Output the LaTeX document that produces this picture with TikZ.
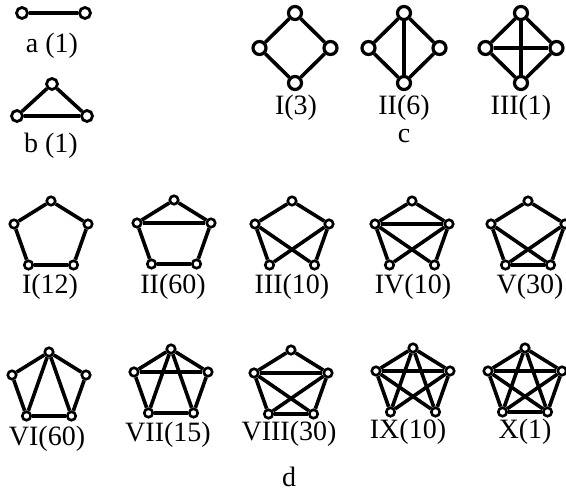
\documentclass[tikz,border=0pt]{standalone}
\usepackage{fontspec}
\setmainfont{Liberation Serif}
\newcommand\pentag[3]{%
  \begin{scope}[shift={(#2,#3)}]
    \node[v] (#1T) at (0,0) {};
    \node[v] (#1L) at (-37,23) {};
    \node[v] (#1R) at (37,23) {};
    \node[v] (#1BL) at (-22.5,64) {};
    \node[v] (#1BR) at (22.5,64) {};
  \end{scope}}
\newcommand\gedges[2]{\foreach \a/\b in {#2} \draw[e] (#1\a) -- (#1\b);}
\begin{document}
\begin{tikzpicture}[x=1pt,y=-1pt,
  v/.style={circle,draw,fill=white,line width=2.6pt,inner sep=0pt,minimum size=8.5pt},
  va/.style={v,line width=2.8pt,minimum size=11pt},
  vc/.style={v,line width=3.2pt,minimum size=13pt},
  e/.style={line width=3.6pt},
  lab/.style={font=\fontsize{28}{30}\selectfont,inner sep=0pt,anchor=base}]
\useasboundingbox (0,0) rectangle (566,494);
% a
\node[va] (a1) at (22,13) {};
\node[va] (a2) at (85,13) {};
\draw[e] (a1) -- (a2);
\node[lab] (la) at (52,53) {a (1)};
% b
\node[va] (b1) at (52,84) {};
\node[va] (b2) at (17,116) {};
\node[va] (b3) at (87,116) {};
\draw[e] (b1) -- (b2) (b2) -- (b3) (b3) -- (b1);
\node[lab] (lb) at (51,153) {b (1)};
% c
\foreach \n/\x in {cI/295,cII/404,cIII/521}{
  \node[vc] (\n T) at (\x,13) {};
  \node[vc] (\n L) at (\x-35.5,48) {};
  \node[vc] (\n R) at (\x+35.5,48) {};
  \node[vc] (\n B) at (\x,83) {};
}
\gedges{cI}{T/L,L/B,B/R,R/T}
\gedges{cII}{T/L,L/B,B/R,R/T,T/B}
\gedges{cIII}{T/L,L/B,B/R,R/T,T/B,L/R}
\node[lab] (lc1) at (296,115) {I(3)};
\node[lab] (lc2) at (404,115) {II(6)};
\node[lab] (lc3) at (521,115) {III(1)};
\node[lab] (lc) at (404,143) {c};
% d row 1
\pentag{dA}{51}{201}
\pentag{dB}{174}{200}
\pentag{dC}{292}{201}
\pentag{dD}{412}{201}
\pentag{dE}{528}{201}
\gedges{dA}{T/L,L/BL,BL/BR,BR/R,R/T}
\gedges{dB}{T/L,L/BL,BL/BR,BR/R,R/T,L/R}
\gedges{dC}{T/L,T/R,L/BL,R/BR,L/BR,R/BL}
\gedges{dD}{T/L,T/R,L/R,L/BL,R/BR,L/BR,R/BL}
\gedges{dE}{T/L,T/R,L/BL,R/BR,BL/BR,L/BR,R/BL}
\node[lab] (l1) at (50,294) {I(12)};
\node[lab] (l2) at (173,294) {II(60)};
\node[lab] (l3) at (292,294) {III(10)};
\node[lab] (l4) at (413,294) {IV(10)};
\node[lab] (l5) at (530,294) {V(30)};
% d row 2
\pentag{dF}{49}{352}
\pentag{dG}{171}{349}
\pentag{dH}{291}{350}
\pentag{dI}{413}{348}
\pentag{dJ}{525}{348}
\gedges{dF}{T/L,L/BL,BL/BR,BR/R,R/T,T/BL,T/BR}
\gedges{dG}{T/L,L/BL,BL/BR,BR/R,R/T,L/R,T/BL,T/BR}
\gedges{dH}{T/L,L/BL,BL/BR,BR/R,R/T,L/R,L/BR,R/BL}
\gedges{dI}{T/L,T/R,L/R,L/BL,R/BR,T/BL,T/BR,L/BR,R/BL}
\gedges{dJ}{T/L,L/BL,BL/BR,BR/R,R/T,L/R,T/BL,T/BR,L/BR,R/BL}
\node[lab] (l6) at (47,446) {VI(60)};
\node[lab] (l7) at (168,442) {VII(15)};
\node[lab] (l8) at (289,441) {VIII(30)};
\node[lab] (l9) at (408,439) {IX(10)};
\node[lab] (l10) at (525,439) {X(1)};
\node[lab] (ld) at (289,487) {d};
\end{tikzpicture}
\end{document}
